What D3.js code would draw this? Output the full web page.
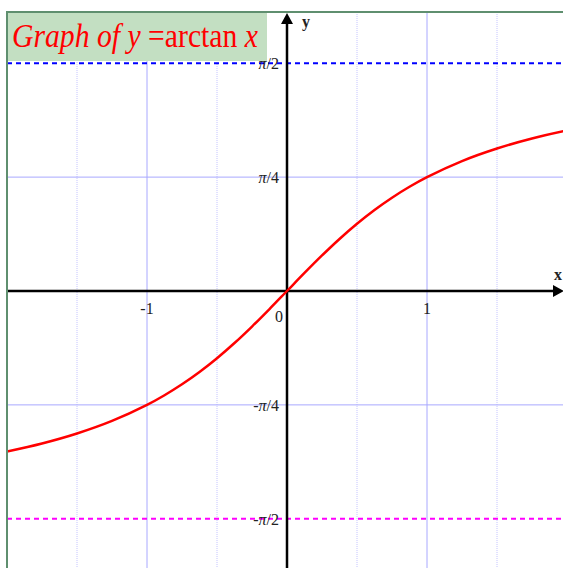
<!DOCTYPE html>
<html>
<head>
<meta charset="utf-8">
<script src="https://cdn.jsdelivr.net/npm/d3@7"></script>
<style>
  html, body { margin: 0; padding: 0; background: #fff; }
  svg { display: block; }
  .tick { font-family: "Liberation Serif", "Times New Roman", serif; font-size: 16px; fill: #222; }
</style>
</head>
<body>
<svg id="chart"></svg>
<script>
// Curve samples of y = arctan x
var curveX = [-2, -1.75, -1.5, -1.25, -1, -0.875, -0.75, -0.625, -0.5, -0.375, -0.25, -0.125,
              0, 0.125, 0.25, 0.375, 0.5, 0.625, 0.75, 0.875, 1, 1.25, 1.5, 1.75, 2];
var curveY = [-1.1071, -1.0517, -0.9828, -0.8961, -0.7854, -0.7188, -0.6435, -0.5586, -0.4636, -0.3588, -0.2450, -0.1244,
              0, 0.1244, 0.2450, 0.3588, 0.4636, 0.5586, 0.6435, 0.7188, 0.7854, 0.8961, 0.9828, 1.0517, 1.1071];

// grid and tick values
var xMajor = [-1, 1];
var xMajorLabels = ["-1", "1"];
var xMinor = [-1.5, -0.5, 0.5, 1.5];
var yMajor = [Math.PI / 4, -Math.PI / 4];
var yMajorLabels = [["π", "/4"], ["-π", "/4"]];
var asymptotes = [Math.PI / 2, -Math.PI / 2];
var asymptoteLabels = [["π", "/2"], ["-π", "/2"]];
var asymptoteColors = ["#0000ff", "#ff00ff"];

var W = 563, H = 568;
var padL = 7, padT = 12;

var svg = d3.select("#chart").attr("width", W).attr("height", H);

// 140px per x unit, 145px per y unit
var x = d3.scaleLinear().domain([-2, (W - 287) / 140]).range([padL, W]);
var y = d3.scaleLinear().domain([(291 - padT) / 145, (291 - H) / 145]).range([padT, H]);

svg.append("clipPath").attr("id", "plotClip")
	.append("rect").attr("x", padL).attr("y", padT).attr("width", W - padL).attr("height", H - padT);

var plot = svg.append("g").attr("clip-path", "url(#plotClip)");

//minor vertical grid (dotted)
plot.selectAll(".xminor").data(xMinor).enter().append("line")
	.attr("x1", function(d){ return x(d); }).attr("x2", function(d){ return x(d); })
	.attr("y1", padT).attr("y2", H)
	.attr("stroke", "#c4c4ff").attr("stroke-width", 1).attr("stroke-dasharray", "1,1");

//major grid
plot.selectAll(".xmajor").data(xMajor).enter().append("line")
	.attr("x1", function(d){ return x(d); }).attr("x2", function(d){ return x(d); })
	.attr("y1", padT).attr("y2", H)
	.attr("stroke", "#a8a8ff").attr("stroke-width", 1);
plot.selectAll(".ymajor").data(yMajor).enter().append("line")
	.attr("y1", function(d){ return y(d); }).attr("y2", function(d){ return y(d); })
	.attr("x1", padL).attr("x2", W)
	.attr("stroke", "#a8a8ff").attr("stroke-width", 1);

//asymptotes
plot.selectAll(".asym").data(asymptotes).enter().append("line")
	.attr("y1", function(d){ return y(d); }).attr("y2", function(d){ return y(d); })
	.attr("x1", padL).attr("x2", W)
	.attr("stroke", function(d, i){ return asymptoteColors[i]; })
	.attr("stroke-width", 2).attr("stroke-dasharray", "5,4");

//axes
var ox = x(0), oy = y(0);
plot.append("line").attr("x1", padL).attr("x2", W - 6).attr("y1", oy).attr("y2", oy)
	.attr("stroke", "#000").attr("stroke-width", 2.5);
plot.append("line").attr("x1", ox).attr("x2", ox).attr("y1", padT + 8).attr("y2", H)
	.attr("stroke", "#000").attr("stroke-width", 2.5);

//curve
var line = d3.line()
	.x(function(d, i){ return x(curveX[i]); })
	.y(function(d, i){ return y(curveY[i]); })
	.curve(d3.curveCatmullRom);
plot.append("path").datum(curveX).attr("d", line)
	.attr("fill", "none").attr("stroke", "#ff0000").attr("stroke-width", 2.5);

//title box
svg.append("rect").attr("x", padL).attr("y", padT).attr("width", 260).attr("height", 49).attr("fill", "#c3dfc2");
var title = svg.append("text").attr("x", 12).attr("y", 47)
	.attr("font-family", "'Liberation Serif', 'Times New Roman', serif").attr("font-size", 34)
	.attr("fill", "#ff0000").attr("textLength", 246).attr("lengthAdjust", "spacingAndGlyphs");
title.append("tspan").attr("font-style", "italic").text("Graph of  y ");
title.append("tspan").text("=arctan ");
title.append("tspan").attr("font-style", "italic").text("x");

//frame
svg.append("path").attr("d", "M" + padL + "," + H + " L" + padL + "," + padT + " L" + W + "," + padT)
	.attr("fill", "none").attr("stroke", "#5f8f6f").attr("stroke-width", 2);

//arrow heads
svg.append("path").attr("d", "M" + ox + "," + (padT + 1) + " l-6,11 l12,0 z").attr("fill", "#000");
svg.append("path").attr("d", "M" + (W + 1) + "," + oy + " l-11,-6 l0,12 z").attr("fill", "#000");

//tick labels
svg.selectAll(".xlab").data(xMajor).enter().append("text")
	.attr("class", "tick").attr("x", function(d){ return x(d); }).attr("y", oy + 23)
	.attr("text-anchor", "middle").text(function(d, i){ return xMajorLabels[i]; });
svg.append("text").attr("class", "tick").attr("x", ox - 8).attr("y", oy + 31)
	.attr("text-anchor", "middle").text("0");

function piLabel(sel, vals, labels, dy){
	var t = sel.data(vals).enter().append("text")
		.attr("class", "tick").attr("x", ox - 8).attr("y", function(d){ return y(d) + dy; })
		.attr("text-anchor", "end");
	t.append("tspan").attr("font-style", "italic").text(function(d, i){ return labels[i][0]; });
	t.append("tspan").text(function(d, i){ return labels[i][1]; });
}
piLabel(svg.selectAll(".ylab"), yMajor, yMajorLabels, 6);
piLabel(svg.selectAll(".alab"), asymptotes, asymptoteLabels, 6);

//axis names
svg.append("text").attr("x", 302).attr("y", 27)
	.attr("font-family", "'Liberation Serif', serif").attr("font-weight", "bold").attr("font-size", 16)
	.attr("fill", "#222").text("y");
svg.append("text").attr("x", 554).attr("y", oy - 11)
	.attr("font-family", "'Liberation Serif', serif").attr("font-weight", "bold").attr("font-size", 16)
	.attr("fill", "#222").text("x");
</script>
</body>
</html>
